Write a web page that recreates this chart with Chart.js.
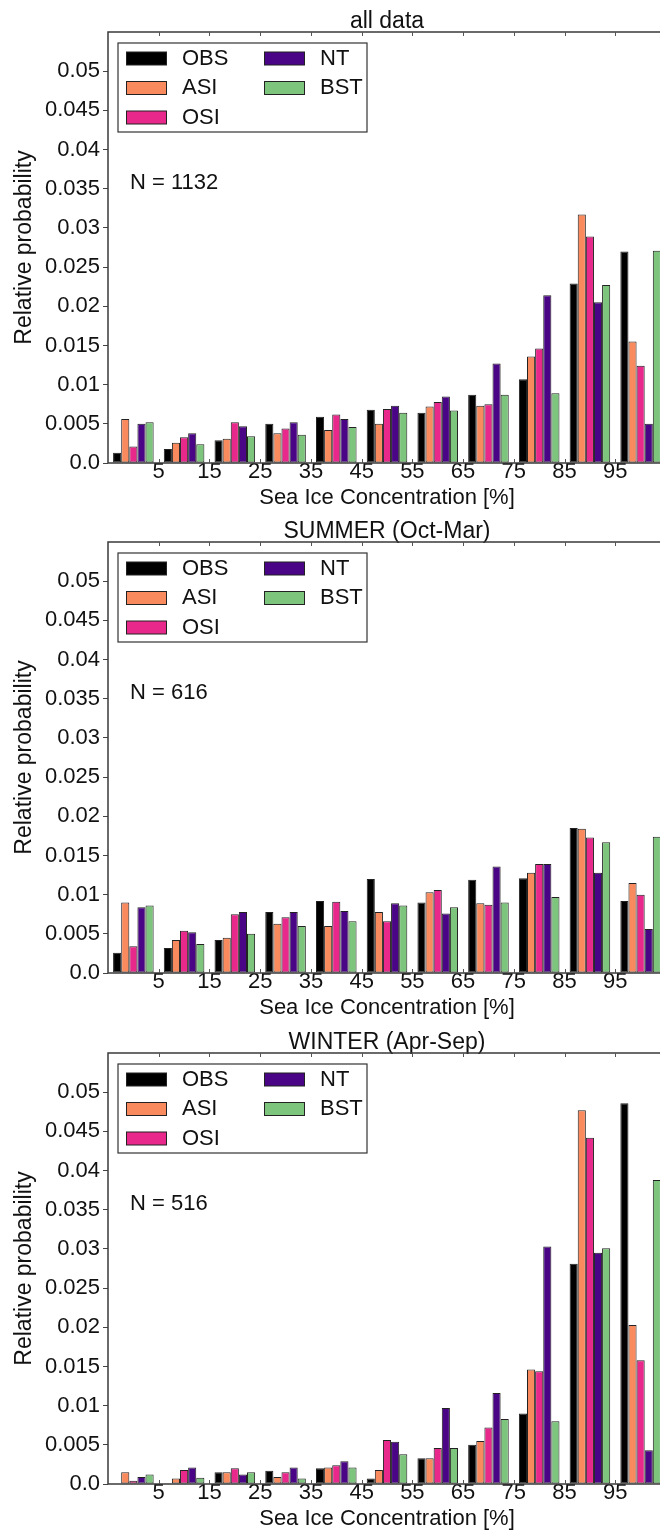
<!DOCTYPE html>
<html>
<head>
<meta charset="utf-8">
<title>Sea ice concentration histograms</title>
<script src="https://cdn.jsdelivr.net/npm/chart.js@4.4.1/dist/chart.umd.min.js"></script>
<style>
  html, body { margin: 0; padding: 0; background: #fff; overflow: hidden; }
  #wrap { position: relative; width: 660px; height: 1533px; overflow: hidden; }
  canvas { position: absolute; left: 0; }
</style>
</head>
<body>
<div id="wrap">
  <canvas id="panelAll" width="668" height="511" style="top:0px"></canvas>
  <canvas id="panelSummer" width="668" height="511" style="top:510px"></canvas>
  <canvas id="panelWinter" width="668" height="511" style="top:1021px"></canvas>
</div>
<script>
// bins (centre of each group of bars) and axis labels
const binCenters = [0, 10, 20, 30, 40, 50, 60, 70, 80, 90, 100];
const xTickLabels = ['5', '15', '25', '35', '45', '55', '65', '75', '85', '95'];
const yTickLabels = ['0.0', '0.005', '0.01', '0.015', '0.02', '0.025', '0.03', '0.035', '0.04', '0.045', '0.05'];

const seriesNames = ['OBS', 'ASI', 'OSI', 'NT', 'BST'];
const seriesColors = ['#000000', '#f88a5e', '#e8288a', '#4a0586', '#7dc47d'];

const panelTitles = ['all data', 'SUMMER (Oct-Mar)', 'WINTER (Apr-Sep)'];
const sampleCounts = [1132, 616, 516];

// all data
const allObs = [0.0013, 0.0018, 0.0029, 0.0050, 0.0059, 0.0068, 0.0064, 0.0087, 0.0107, 0.0229, 0.0270];
const allAsi = [0.0056, 0.0026, 0.0031, 0.0038, 0.0042, 0.0050, 0.0072, 0.0073, 0.0136, 0.0317, 0.0155];
const allOsi = [0.0021, 0.0033, 0.0052, 0.0044, 0.0062, 0.0069, 0.0078, 0.0075, 0.0146, 0.0289, 0.0124];
const allNt  = [0.0050, 0.0038, 0.0047, 0.0052, 0.0056, 0.0073, 0.0085, 0.0127, 0.0214, 0.0205, 0.0050];
const allBst = [0.0052, 0.0024, 0.0034, 0.0036, 0.0046, 0.0064, 0.0067, 0.0087, 0.0089, 0.0227, 0.0271];

// summer (Oct-Mar)
const sumObs = [0.0026, 0.0032, 0.0042, 0.0078, 0.0092, 0.0120, 0.0090, 0.0119, 0.0121, 0.0185, 0.0092];
const sumAsi = [0.0090, 0.0042, 0.0045, 0.0063, 0.0060, 0.0078, 0.0103, 0.0089, 0.0128, 0.0184, 0.0115];
const sumOsi = [0.0034, 0.0054, 0.0075, 0.0071, 0.0091, 0.0066, 0.0106, 0.0087, 0.0139, 0.0173, 0.0100];
const sumNt  = [0.0084, 0.0052, 0.0078, 0.0078, 0.0079, 0.0089, 0.0076, 0.0136, 0.0139, 0.0128, 0.0056];
const sumBst = [0.0086, 0.0037, 0.0050, 0.0060, 0.0066, 0.0086, 0.0084, 0.0090, 0.0097, 0.0167, 0.0174];

// winter (Apr-Sep)
const winObs = [0.0000, 0.0001, 0.0015, 0.0017, 0.0020, 0.0007, 0.0033, 0.0050, 0.0090, 0.0281, 0.0486];
const winAsi = [0.0015, 0.0007, 0.0015, 0.0009, 0.0021, 0.0018, 0.0033, 0.0055, 0.0146, 0.0477, 0.0203];
const winOsi = [0.0004, 0.0018, 0.0020, 0.0015, 0.0024, 0.0056, 0.0046, 0.0072, 0.0144, 0.0442, 0.0158];
const winNt  = [0.0009, 0.0021, 0.0012, 0.0021, 0.0029, 0.0054, 0.0097, 0.0116, 0.0303, 0.0295, 0.0043];
const winBst = [0.0012, 0.0008, 0.0015, 0.0007, 0.0021, 0.0038, 0.0046, 0.0083, 0.0080, 0.0301, 0.0388];

const FONT = '"Liberation Sans", Arial, Helvetica, sans-serif';
Chart.defaults.font.family = FONT;
Chart.defaults.color = '#111';

// frame, inward x ticks, legend box and N label
const panelDecor = {
    id: 'panelDecor',
    afterDatasetsDraw(chart) {
        const { ctx, chartArea: a, scales: { x } } = chart;
        ctx.save();
        ctx.strokeStyle = '#3a3a3a';
        ctx.lineWidth = 1.5;
        ctx.strokeRect(a.left, a.top, a.right - a.left, a.bottom - a.top);
        ctx.lineWidth = 1;
        ctx.strokeStyle = '#555';
        x.ticks.forEach(t => {
            if (t.label == null) return;
            const px = Math.round(x.getPixelForValue(t.value)) + 0.5;
            ctx.beginPath();
            ctx.moveTo(px, a.bottom); ctx.lineTo(px, a.bottom - 4);
            ctx.moveTo(px, a.top); ctx.lineTo(px, a.top + 4);
            ctx.stroke();
        });
        ctx.restore();
    },
    afterDraw(chart, args, opts) {
        const { ctx, chartArea: a } = chart;
        ctx.save();
        const bx = a.left + 10, by = a.top + 11;
        ctx.fillStyle = '#fff';
        ctx.fillRect(bx, by, 249, 89);
        ctx.strokeStyle = '#333';
        ctx.lineWidth = 1.2;
        ctx.strokeRect(bx, by, 249, 89);

        ctx.font = '22px ' + FONT;
        ctx.textBaseline = 'middle';
        ctx.textAlign = 'left';
        chart.data.datasets.forEach((ds, i) => {
            const col = Math.floor(i / 3), row = i % 3;
            const px = bx + 8 + col * 138;
            const cy = by + 15.5 + row * 29.5;
            ctx.fillStyle = ds.backgroundColor;
            ctx.fillRect(px, cy - 6.5, 41, 13);
            ctx.strokeStyle = '#222';
            ctx.lineWidth = 1;
            ctx.strokeRect(px + 0.5, cy - 6.5, 40, 13);
            ctx.fillStyle = '#111';
            ctx.fillText(ds.label, px + 56, cy);
        });

        ctx.fillText('N = ' + opts.count, a.left + 22, a.top + 151);
        ctx.restore();
    }
};

function makeDatasets(series) {
    return series.map((values, i) => ({
        label: seriesNames[i],
        data: binCenters.map((c, j) => ({ x: c, y: values[j] })),
        backgroundColor: seriesColors[i],
        borderColor: '#222',
        borderWidth: 1,
        borderSkipped: false,
        categoryPercentage: 0.8,
        barPercentage: 1.0
    }));
}

function renderPanel(canvasId, title, count, series) {
    const ctx = document.getElementById(canvasId).getContext('2d');
    return new Chart(ctx, {
        type: 'bar',
        data: { datasets: makeDatasets(series) },
        plugins: [panelDecor],
        options: {
            responsive: false,
            animation: false,
            layout: { padding: { left: 0, right: 2, top: 0, bottom: 0 } },
            plugins: {
                legend: { display: false },
                tooltip: { enabled: false },
                title: {
                    display: true,
                    text: title,
                    fullSize: false,
                    color: '#111',
                    font: { size: 23, weight: 'normal', lineHeight: 1 },
                    padding: { top: 10, bottom: -1 }
                },
                panelDecor: { count }
            },
            scales: {
                x: {
                    type: 'linear',
                    offset: false,
                    min: -5,
                    max: 105,
                    grid: { display: false },
                    border: { display: false },
                    ticks: {
                        stepSize: 10,
                        autoSkip: false,
                        maxRotation: 0,
                        padding: -12,
                        font: { size: 22 },
                        callback: v => xTickLabels.includes(String(Math.round(v))) ? String(Math.round(v)) : null
                    },
                    title: {
                        display: true,
                        text: 'Sea Ice Concentration [%]',
                        font: { size: 22 },
                        padding: { top: 0, bottom: 0 }
                    },
                    afterFit: s => { s.height = 48; }
                },
                y: {
                    min: 0,
                    max: 0.055,
                    grid: { drawOnChartArea: false, drawTicks: true, tickLength: 5, color: '#444' },
                    border: { display: false },
                    ticks: {
                        stepSize: 0.005,
                        padding: 3,
                        font: { size: 22 },
                        callback: v => {
                            const lbl = yTickLabels[Math.round(v / 0.005)];
                            return lbl === undefined ? null : lbl;
                        }
                    },
                    title: {
                        display: true,
                        text: 'Relative probability',
                        font: { size: 23 },
                        padding: { top: 11, bottom: 0 }
                    },
                    afterFit: s => { s.width = 108; }
                }
            }
        }
    });
}

renderPanel('panelAll', panelTitles[0], sampleCounts[0], [allObs, allAsi, allOsi, allNt, allBst]);
renderPanel('panelSummer', panelTitles[1], sampleCounts[1], [sumObs, sumAsi, sumOsi, sumNt, sumBst]);
renderPanel('panelWinter', panelTitles[2], sampleCounts[2], [winObs, winAsi, winOsi, winNt, winBst]);
</script>
</body>
</html>
